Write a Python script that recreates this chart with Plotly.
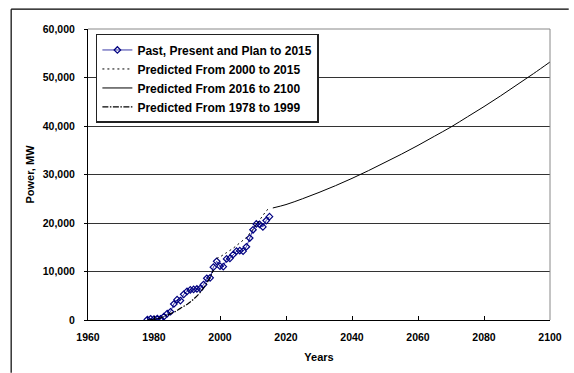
import plotly.graph_objects as go

# Installed capacity, past/present/planned (MW)
past_years = list(range(1978, 2016))
past_power = [100, 250, 200, 300, 250, 700, 1300, 1700, 3300, 4200,
              4000, 5300, 5900, 6200, 6300, 6400, 6500, 7300, 8600, 8700,
              10900, 12100, 11100, 11000, 12600, 12700, 13500, 14200, 14300, 14200,
              15100, 16900, 18600, 19800, 19700, 19200, 20500, 21300]

# Model prediction 2000-2015
pred_a_years = [1999, 2000, 2002, 2004, 2006, 2008, 2010, 2012, 2014, 2015]
pred_a_power = [12700, 13000, 13900, 14800, 15900, 17000, 18700, 20600, 22500, 23100]

# Model prediction 2016-2100
pred_b_years = [2016, 2020, 2025, 2030, 2035, 2040, 2045, 2050, 2055, 2060,
                2065, 2070, 2075, 2080, 2085, 2090, 2095, 2100]
pred_b_power = [23100, 23800, 25000, 26300, 27700, 29200, 30800, 32500, 34200, 36000,
                37900, 39800, 41900, 44000, 46200, 48500, 50800, 53200]

# Model prediction 1978-1999
pred_c_years = [1978, 1980, 1982, 1984, 1986, 1988, 1990, 1992, 1994, 1996, 1997, 1998]
pred_c_power = [0, 150, 450, 1000, 1600, 2400, 3200, 4300, 5700, 7600, 8800, 10300]

y_ticks = [0, 10000, 20000, 30000, 40000, 50000, 60000]
y_tick_text = ["0", "10,000", "20,000", "30,000", "40,000", "50,000", "60,000"]
x_ticks = [1960, 1980, 2000, 2020, 2040, 2060, 2080, 2100]

FONT = "Liberation Sans, Arial, sans-serif"

fig = go.Figure()
fig.add_trace(go.Scatter(
    x=past_years, y=past_power, mode="lines+markers",
    name="<b>Past, Present and Plan to 2015</b>",
    line=dict(color="#3a3aa8", width=1),
    marker=dict(symbol="diamond-open", size=5, color="#000080",
                line=dict(width=1.2, color="#000080")),
))
fig.add_trace(go.Scatter(
    x=pred_a_years, y=pred_a_power, mode="lines",
    name="<b>Predicted From 2000 to 2015</b>",
    line=dict(color="black", width=1, dash="2px,3px"),
))
fig.add_trace(go.Scatter(
    x=pred_b_years, y=pred_b_power, mode="lines",
    name="<b>Predicted From 2016 to 2100</b>",
    line=dict(color="black", width=1, shape="spline"),
))
fig.add_trace(go.Scatter(
    x=pred_c_years, y=pred_c_power, mode="lines",
    name="<b>Predicted From 1978 to 1999</b>",
    line=dict(color="black", width=1.2, shape="spline", dash="6px,1.5px,1.5px,1.5px"),
))

# plot area in pixels: x 88..557, y 29..322
PL, PR, PT, PB = 88, 557, 29, 322
W, H = 574, 373
pw, ph = PR - PL, PB - PT


def px_x(v):
    return (v - PL) / pw


def px_y(v):
    return (PB - v) / ph


shapes = [
    # outer chart frame (top and left edges)
    dict(type="line", xref="paper", yref="paper",
         x0=px_x(10), x1=px_x(W + 2), y0=px_y(9), y1=px_y(9),
         line=dict(color="black", width=1.2)),
    dict(type="line", xref="paper", yref="paper",
         x0=px_x(10), x1=px_x(10), y0=px_y(9), y1=px_y(H + 2),
         line=dict(color="black", width=1.2)),
    # plot area border (top and right)
    dict(type="line", xref="paper", yref="paper", x0=0, x1=1, y0=1, y1=1,
         line=dict(color="#888888", width=1)),
    dict(type="line", xref="paper", yref="paper", x0=1, x1=1, y0=0, y1=1,
         line=dict(color="#888888", width=1)),
]

fig.update_layout(
    width=W, height=H,
    margin=dict(l=PL, r=W - PR, t=PT, b=H - PB, pad=0),
    paper_bgcolor="white", plot_bgcolor="white",
    font=dict(family=FONT, size=10, color="black"),
    showlegend=True,
    legend=dict(
        x=px_x(96), y=px_y(34), xanchor="left", yanchor="top",
        bgcolor="white", bordercolor="#222222", borderwidth=1.5,
        font=dict(family=FONT, size=12, color="black"),
        tracegroupgap=0, itemwidth=30,
    ),
    shapes=shapes,
    xaxis=dict(
        range=[1960, 2100], tickvals=x_ticks,
        ticktext=[f"<b>{t}</b>" for t in x_ticks],
        tickfont=dict(size=10.5),
        ticks="inside", ticklen=4, tickcolor="black",
        ticklabelstandoff=7,
        showline=True, linecolor="black", linewidth=1,
        showgrid=False, zeroline=False,
        title=dict(text="<b>Years</b>", standoff=11, font=dict(size=11)),
    ),
    yaxis=dict(
        range=[0, 60000], tickvals=y_ticks,
        ticktext=[f"<b>{t}</b>" for t in y_tick_text],
        tickfont=dict(size=10.5),
        ticks="outside", ticklen=3, tickcolor="black",
        ticklabelstandoff=7,
        showline=True, linecolor="black", linewidth=1,
        showgrid=True, gridcolor="#333333", gridwidth=1,
        zeroline=False,
        title=dict(text="<b>Power, MW</b>", standoff=5, font=dict(size=11)),
    ),
)

fig.write_html("out.html")
